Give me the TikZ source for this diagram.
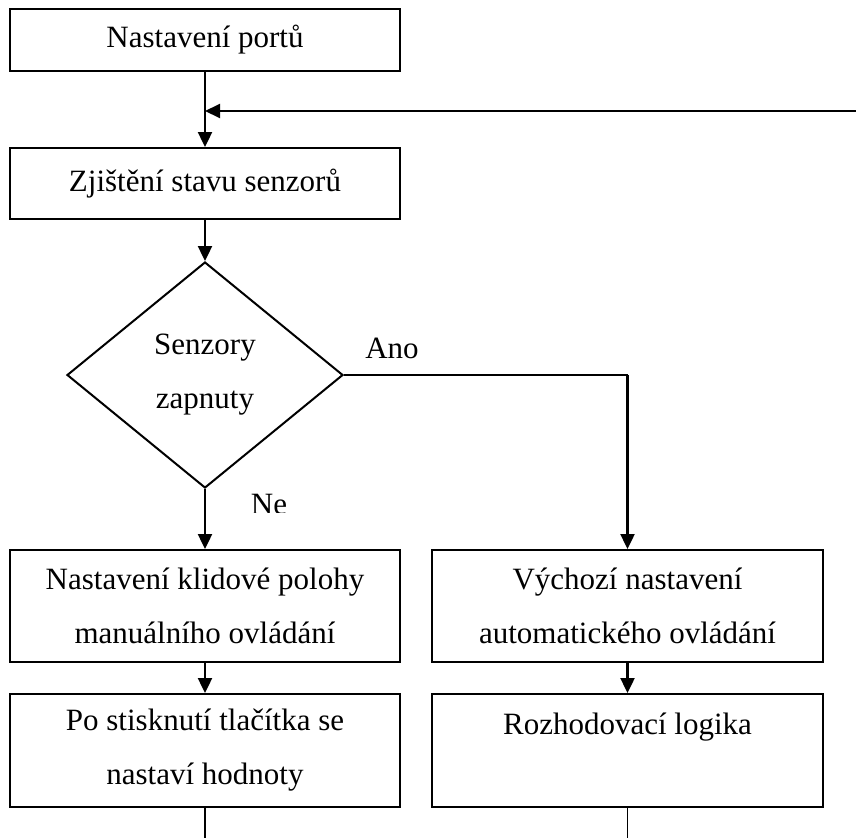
\documentclass[tikz,border=0pt]{standalone}
\usepackage{fontspec}
\setmainfont{Liberation Serif}
\usetikzlibrary{shapes.geometric,arrows.meta}
\begin{document}
\begin{tikzpicture}[x=1pt,y=-1pt,
  font=\fontsize{31}{54}\selectfont,
  stepbox/.style={draw,line width=2pt,rectangle,inner sep=0pt,align=center,
    minimum width=390pt},
  decision/.style={draw,line width=2pt,diamond,inner sep=0pt,align=center,
    minimum width=276pt,minimum height=226pt},
  tip/.style={-{Triangle[length=15pt,width=14pt]}},
  flow/.style={line width=2.4pt,tip},
  plain/.style={line width=2.4pt},
  branch/.style={font=\fontsize{31}{36}\selectfont,inner sep=0pt}]
\useasboundingbox (0,0) rectangle (856,838);

% process steps
\node[stepbox,minimum height=62pt] (ports) at (205,40) {Nastavení portů};
\node[stepbox,minimum height=71pt] (sensors) at (205,183.5) {Zjištění stavu senzorů};
\node[decision] (test) at (205,375) {Senzory\\zapnuty};
\node[stepbox,minimum height=112pt] (rest) at (205,606)
  {Nastavení klidové polohy\\manuálního ovládání};
\node[stepbox,minimum height=112pt,minimum width=391pt] (auto) at (627.5,606)
  {Výchozí nastavení\\automatického ovládání};
\node[stepbox,minimum height=113pt] (button) at (205,750.5)
  {Po stisknutí tlačítka se\\nastaví hodnoty};
\node[stepbox,minimum height=113pt,minimum width=391pt] (logic) at (627.5,750.5)
  {Rozhodovací logika\\~};

% free ends of the loop and the outgoing lines
\coordinate (loopin) at (856,111);
\coordinate (outL) at (205,838);
\coordinate (outR) at (627.5,838);

% connectors
\draw[flow] (ports.south) -- (sensors.north);
\draw[line width=2pt,tip] (loopin) -- (loopin -| ports.south);
\draw[flow] (sensors.south) -- (test.north);
\draw[flow] (test.south) -- (rest.north);
\draw[line width=2pt] (test.east) -- (test.east -| auto.north);
\draw[flow] (test.east -| auto.north) -- (auto.north);
\draw[flow] (rest.south) -- (button.north);
\draw[flow] (auto.south) -- (logic.north);
\draw[plain] (button.south) -- (outL);
\draw[line width=1.6pt] (logic.south) -- (outR);

% branch labels
\node[branch,anchor=base] (yes) at (392,358) {Ano};
\begin{scope}
  \clip (230,470) rectangle (310,512);
  \node[branch,anchor=base] (no) at (269,514) {Ne};
\end{scope}
\end{tikzpicture}
\end{document}
